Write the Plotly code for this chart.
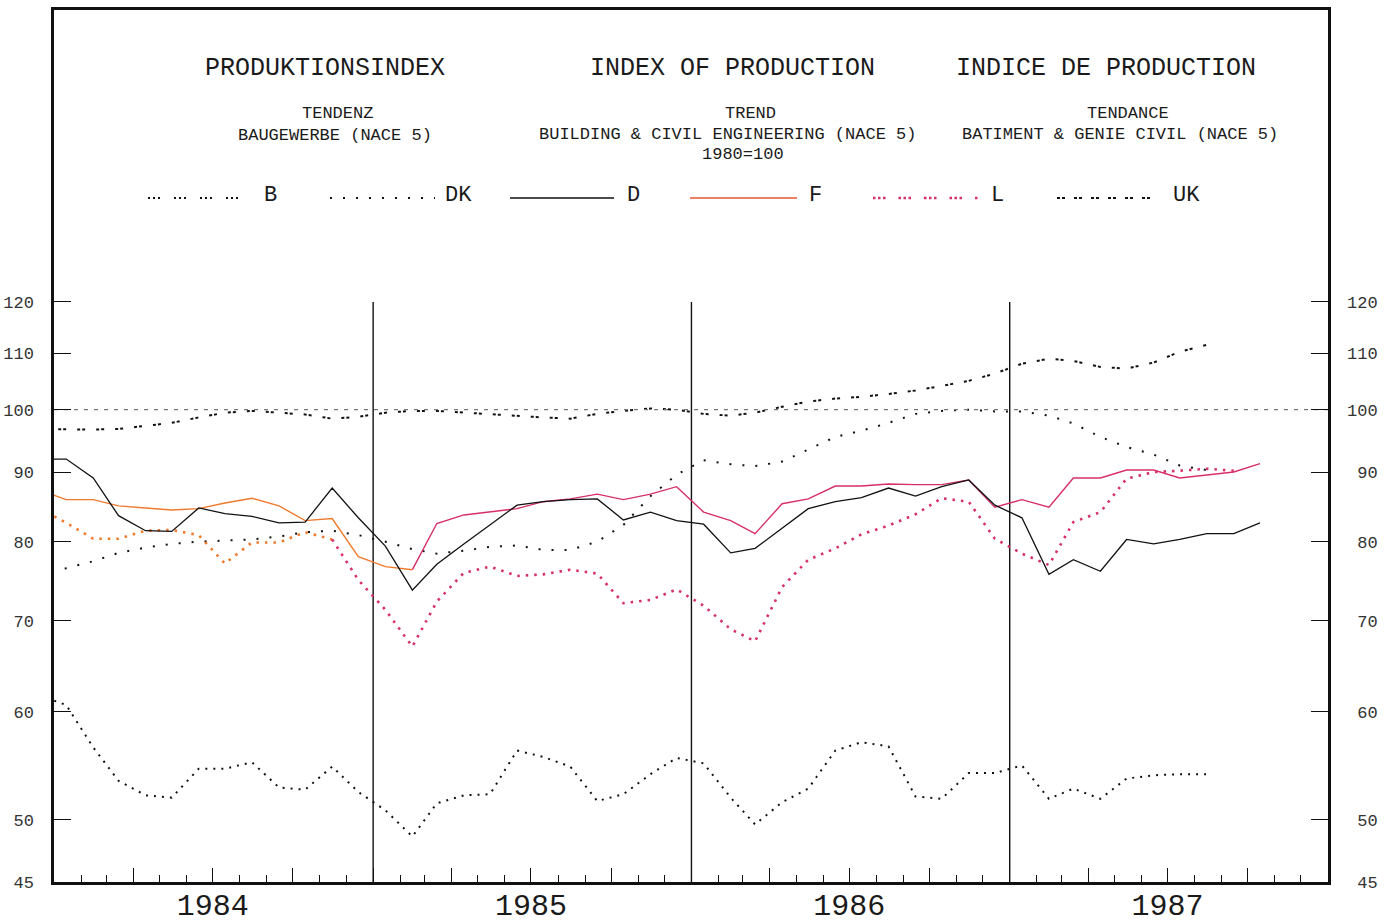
import numpy as np
import pandas as pd
import plotly.graph_objects as go

# Monthly trend indices, building & civil engineering (NACE 5), 1980=100.
# First value is December 1983, then one value per month from January 1984.
start_month = "1983-12-01"

B = [61.7, 60.7, 56.5, 53.4, 52.1, 51.9, 54.5, 54.5, 55.1, 52.8, 52.6, 54.7,
     52.4, 50.8, 48.6, 51.4, 52.1, 52.2, 56.2, 55.6, 54.7, 51.6, 52.2, 54.0,
     55.5, 55.0, 51.9, 49.6, 51.5, 52.7, 56.2, 57.0, 56.6, 52.0, 51.8, 54.1,
     54.1, 54.8, 51.8, 52.7, 51.8, 53.6, 53.9, 54.0, 54.0]

DK = [75.8, 76.5, 77.4, 78.5, 79.2, 79.7, 80.0, 80.1, 80.3, 80.7, 81.3, 81.5,
      80.9, 80.0, 79.0, 78.4, 78.8, 79.3, 79.5, 78.9, 78.9, 80.0, 82.3, 86.4,
      89.6, 91.8, 91.2, 90.9, 91.6, 93.5, 95.5, 96.5, 97.8, 99.3, 99.8, 100.0,
      99.7, 99.7, 99.0, 97.7, 95.5, 93.9, 92.7, 91.0, 90.3]

D = [92.0, 92.0, 89.1, 83.6, 81.5, 81.4, 84.7, 83.9, 83.5, 82.6, 82.7, 87.6,
     83.3, 79.4, 73.7, 77.0, 79.7, 82.3, 85.1, 85.6, 85.9, 86.0, 83.0, 84.1,
     82.9, 82.4, 78.5, 79.1, 81.8, 84.6, 85.6, 86.2, 87.6, 86.4, 87.8, 88.8,
     85.1, 83.3, 75.7, 77.6, 76.1, 80.3, 79.7, 80.3, 81.1, 81.1, 82.6]

F = [87.3, 85.9, 85.9, 85.0, 84.7, 84.4, 84.6, 85.4, 86.1, 85.0, 82.9, 83.2,
     78.0, 76.7, 76.3, 82.5, 83.7, 84.1, 84.6, 85.6, 86.0, 86.7, 85.9, 86.7,
     87.8, 84.1, 82.9, 81.1, 85.3, 86.0, 87.9, 87.9, 88.2, 88.1, 88.1, 88.8,
     84.8, 85.9, 84.8, 89.1, 89.1, 90.3, 90.3, 89.1, 89.6, 90.0, 91.3]

L = [84.6, 82.6, 80.4, 80.4, 81.5, 81.6, 80.9, 77.1, 79.9, 79.9, 81.3, 80.3,
     75.0, 71.3, 67.0, 72.3, 75.9, 76.7, 75.5, 75.7, 76.3, 75.8, 72.1, 72.5,
     73.8, 71.8, 69.0, 67.6, 74.1, 77.6, 79.1, 81.0, 82.2, 83.8, 86.1, 85.6,
     80.4, 78.4, 76.9, 82.7, 84.1, 89.0, 90.0, 90.2, 90.5, 90.2]

UK = [96.8, 96.7, 96.7, 96.8, 97.3, 97.8, 98.7, 99.5, 99.8, 99.5, 99.2, 98.5,
      98.8, 99.5, 99.8, 99.8, 99.5, 99.2, 99.0, 98.7, 98.5, 99.3, 99.8, 100.2,
      100.0, 99.3, 99.0, 99.5, 100.5, 101.4, 101.9, 102.2, 102.7, 103.3, 104.1,
      105.0, 106.3, 108.1, 109.0, 108.6, 107.5, 107.2, 108.3, 110.3, 111.6]

y_ticks = [45, 50, 60, 70, 80, 90, 100, 110, 120]
year_labels = {"1984-07-01": "1984", "1985-07-01": "1985",
               "1986-07-01": "1986", "1987-07-01": "1987"}
year_breaks = ["1985-01-01", "1986-01-01", "1987-01-01"]

# plotted at mid-month
months = pd.date_range(start_month, periods=48, freq="MS") + pd.Timedelta(days=14)

BLACK = "#111111"
ORANGE = "#ef7a2e"
CRIMSON = "#d62f69"
MONO = "Liberation Mono"

fig = go.Figure()


def add_line(values, color, dash, width, offset=0):
    fig.add_trace(go.Scatter(
        x=months[offset:offset + len(values)], y=values, mode="lines",
        line=dict(color=color, dash=dash, width=width),
        showlegend=False, hoverinfo="skip"))


# reference level 100 (drawn on the right-hand axis, which shares the scale)
fig.add_trace(go.Scatter(
    x=["1984-01-01", "1988-01-01"], y=[100, 100], mode="lines",
    line=dict(color="#777777", dash="4px,6px", width=1.3),
    yaxis="y2", showlegend=False, hoverinfo="skip"))

# year separators
for d in year_breaks:
    fig.add_trace(go.Scatter(
        x=[d, d], y=[45, 120], mode="lines",
        line=dict(color=BLACK, width=1.4), showlegend=False, hoverinfo="skip"))

add_line(B, BLACK, "2px,6px", 2.0)
add_line(DK, BLACK, "2px,11px", 2.0)
add_line(UK, BLACK, "3px,2px,3px,11px", 2.0)
add_line(L[:12], ORANGE, "2.5px,6px", 2.6)
add_line(L[11:], CRIMSON, "2.5px,6px", 2.6, offset=11)
add_line(F[:15], ORANGE, "solid", 1.4)
add_line(F[14:], CRIMSON, "solid", 1.4, offset=14)
add_line(D, BLACK, "solid", 1.3)

# ---- figure geometry helpers (pixel -> paper) ----
W, H = 1394, 924
ML, MR, MT, MB = 54, 66, 10, 42
PW, PH = W - ML - MR, H - MT - MB


def px(x):
    return (x - ML) / PW


def py(y):
    return (H - MB - y) / PH


annotations = []


def text(s, x, y, size, anchor="center"):
    annotations.append(dict(
        text=s, x=px(x), y=py(y), xref="paper", yref="paper",
        xanchor=anchor, yanchor="middle", showarrow=False,
        font=dict(family=MONO, size=size, color="#1a1a1a")))


text("PRODUKTIONSINDEX", 325, 69, 25)
text("INDEX OF PRODUCTION", 732, 69, 25)
text("INDICE DE PRODUCTION", 1106, 69, 25)
text("TENDENZ", 337, 114, 17)
text("BAUGEWERBE (NACE 5)", 335, 135, 17)
text("TREND", 750, 114, 17)
text("BUILDING & CIVIL ENGINEERING (NACE 5)", 727, 134, 17)
text("1980=100", 743, 155, 17)
text("TENDANCE", 1128, 114, 17)
text("BATIMENT & GENIE CIVIL (NACE 5)", 1120, 134, 17)

# legend row: sample line + label
legend_items = [
    ("B", BLACK, "2px,3px,2px,3px,2px,14px", 2.0, 148, 252, 262),
    ("DK", BLACK, "2px,11px", 2.0, 330, 435, 443),
    ("D", BLACK, "solid", 1.3, 510, 614, 625),
    ("F", "#e4572e", "solid", 1.4, 690, 797, 807),
    ("L", CRIMSON, "2.5px,2.5px,2.5px,2.5px,2.5px,13px", 2.6, 873, 978, 989),
    ("UK", BLACK, "3px,2px,3px,9px", 2.0, 1057, 1155, 1171),
]
shapes = []
for name, color, dash, width, x0, x1, xl in legend_items:
    shapes.append(dict(type="line", xref="paper", yref="paper",
                       x0=px(x0), x1=px(x1), y0=py(198), y1=py(198),
                       line=dict(color=color, dash=dash, width=width)))
    text(name, xl, 195, 22, anchor="left")

quarters = pd.date_range("1984-04-01", "1987-10-01", freq="QS")
tickvals = [q.strftime("%Y-%m-%d") for q in quarters]
ticktext = [year_labels.get(t, "") for t in tickvals]

y_range = [np.log10(45), 2.2935]
left_text = [str(v) for v in y_ticks]
right_text = [("\u00a0" if v < 100 else "") + str(v) for v in y_ticks]

fig.update_layout(
    width=W, height=H,
    margin=dict(l=ML, r=MR, t=MT, b=MB, autoexpand=False),
    paper_bgcolor="white", plot_bgcolor="white",
    showlegend=False,
    shapes=shapes, annotations=annotations,
    xaxis=dict(
        type="date", range=["1984-01-01", "1988-01-01"], automargin=False,
        showline=True, linecolor=BLACK, linewidth=2.5, mirror=True,
        showgrid=False, zeroline=False,
        ticks="inside", ticklen=14, tickwidth=1.2, tickcolor=BLACK,
        tickvals=tickvals, ticktext=ticktext, ticklabelstandoff=-6,
        tickfont=dict(family=MONO, size=30, color="#1a1a1a"),
        minor=dict(ticks="inside", ticklen=7, tickwidth=1.2, tickcolor=BLACK,
                   dtick="M1", tick0="1984-01-01", showgrid=False),
    ),
    yaxis=dict(
        type="log", range=y_range, automargin=False,
        showline=True, linecolor=BLACK, linewidth=2.5, mirror=True,
        showgrid=False, zeroline=False,
        ticks="inside", ticklen=17, tickwidth=1.2, tickcolor=BLACK,
        tickvals=y_ticks, ticktext=left_text, ticklabelstandoff=14,
        tickfont=dict(family=MONO, size=17, color="#333333"),
    ),
    yaxis2=dict(
        type="log", range=y_range, overlaying="y", side="right",
        automargin=False,
        showline=False, showgrid=False, zeroline=False,
        ticks="inside", ticklen=17, tickwidth=1.2, tickcolor=BLACK,
        tickvals=y_ticks, ticktext=right_text, ticklabelstandoff=18,
        tickfont=dict(family=MONO, size=17, color="#333333"),
    ),
)

fig.write_html("out.html")
